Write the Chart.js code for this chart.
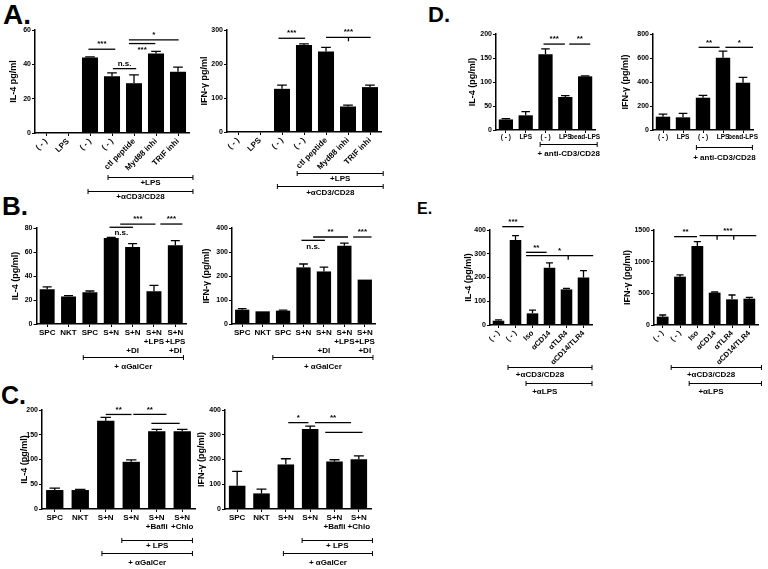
<!DOCTYPE html>
<html>
<head>
<meta charset="utf-8">
<script src="https://cdn.jsdelivr.net/npm/chart.js@4/dist/chart.umd.min.js"></script>
<style>
  body { margin: 0; background: #fff; width: 768px; height: 569px; position: relative; overflow: hidden;
         font-family: "Liberation Sans", Arial, sans-serif; }
  canvas { position: absolute; }
  .tag { position: absolute; font-weight: bold; line-height: 1; color: #000; }
</style>
</head>
<body>
<div class="tag" style="left:3px;top:1px;font-size:28px">A.</div>
<div class="tag" style="left:2px;top:193px;font-size:26px">B.</div>
<div class="tag" style="left:1px;top:383px;font-size:25px">C.</div>
<div class="tag" style="left:428px;top:4px;font-size:22px">D.</div>
<div class="tag" style="left:417px;top:201px;font-size:16px">E.</div>

<canvas id="aIl4"></canvas>
<canvas id="aIfn"></canvas>
<canvas id="bIl4"></canvas>
<canvas id="bIfn"></canvas>
<canvas id="cIl4"></canvas>
<canvas id="cIfn"></canvas>
<canvas id="dIl4"></canvas>
<canvas id="dIfn"></canvas>
<canvas id="eIl4"></canvas>
<canvas id="eIfn"></canvas>

<script>
// A. TLR signalling inhibitors
const aLabels = ['( - )', 'LPS', '( - )', '( - )', 'ctl peptide', 'Myd88 inhi', 'TRIF inhi'];
const aIl4 = [0, 0, 44, 33, 29, 46.3, 35.7];
const aIl4Err = [0, 0, 0.3, 2, 4.9, 1.2, 2.7];
const aIl4Ticks = [0, 20, 40, 60];
const aIfn = [0, 0, 127, 256, 237, 75, 132];
const aIfnErr = [0, 0, 11, 3, 12, 4, 6];
const aIfnTicks = [0, 100, 200, 300];

// B. DI
const bLabels = ['SPC', 'NKT', 'SPC', 'S+N', ['S+N', '', '+DI'], ['S+N', '+LPS'], ['S+N', '+LPS', '+DI']];
const bIl4 = [28.9, 23, 26.4, 71.7, 64.2, 27.2, 65.6];
const bIl4Err = [2, 0.6, 1.1, 0.5, 2.8, 5, 3.9];
const bIl4Ticks = [0, 20, 40, 60, 80];
const bIfn = [59.7, 52.8, 55.6, 236, 219, 326, 185];
const bIfnErr = [4, 0, 2.5, 14, 18, 11, 0];
const bIfnTicks = [0, 100, 200, 300, 400];

// C. Bafilomycin / chloroquine
const cLabels = ['SPC', 'NKT', 'S+N', 'S+N', ['S+N', '+Bafli'], ['S+N', '+Chlo']];
const cIl4 = [38.3, 38.3, 178.5, 95.3, 157, 157];
const cIl4Err = [4, 1.3, 6.7, 4, 4, 4];
const cIl4Ticks = [0, 50, 100, 150, 200];
const cIfn = [94, 63, 180, 323.5, 192, 201];
const cIfnErr = [58, 17.5, 23, 11, 7, 14];
const cIfnTicks = [0, 100, 200, 300, 400];

// D. bead-LPS
const dLabels = ['( - )', 'LPS', '( - )', 'LPS', 'bead-LPS'];
const dIl4 = [22, 30.6, 158, 68.8, 111.8];
const dIl4Err = [1.5, 7.6, 11, 2.8, 1];
const dIl4Ticks = [0, 50, 100, 150, 200];
const dIfn = [111, 105.6, 269, 603, 394];
const dIfnErr = [22, 33, 20, 55, 45];
const dIfnTicks = [0, 200, 400, 600, 800];

// E. blocking antibodies
const eLabels = ['( - )', '( - )', 'Iso', 'αCD14', 'αTLR4', 'αCD14/TLR4'];
const eIl4 = [18, 358, 49, 241, 150, 200];
const eIl4Err = [4, 18, 14, 21, 4, 29];
const eIl4Ticks = [0, 100, 200, 300, 400];
const eIfn = [132, 763, 1247, 511, 405, 416];
const eIfnErr = [26, 27, 69, 10, 69, 21];
const eIfnTicks = [0, 500, 1000, 1500];

const FONT = '"Liberation Sans", Arial, sans-serif';
const PT = 24, PR = 16, XH = 80;

// error bars, significance lines and the condition brackets under the axis
const marks = {
  id: 'marks',
  afterDatasetsDraw(chart, args, opts) {
    const ctx = chart.ctx;
    const x = chart.scales.x, y = chart.scales.y;
    const vals = chart.data.datasets[0].data;
    ctx.save();
    ctx.strokeStyle = '#000';
    ctx.fillStyle = '#000';
    ctx.lineWidth = 1.3;

    chart.getDatasetMeta(0).data.forEach((bar, i) => {
      const e = opts.errors[i];
      if (!e) return;
      const top = y.getPixelForValue(vals[i] + e);
      const hw = bar.width * 0.3;
      ctx.beginPath();
      ctx.moveTo(bar.x, bar.y);
      ctx.lineTo(bar.x, top);
      ctx.moveTo(bar.x - hw, top);
      ctx.lineTo(bar.x + hw, top);
      ctx.stroke();
    });

    ctx.font = 'bold 8px ' + FONT;
    ctx.textAlign = 'center';
    (opts.sig || []).forEach(([a, b, v, txt, below, ticks]) => {
      const py = y.getPixelForValue(v);
      const xa = x.getPixelForValue(a), xb = x.getPixelForValue(b);
      ctx.beginPath();
      ctx.moveTo(xa, py);
      ctx.lineTo(xb, py);
      (ticks || []).forEach(t => {
        const tx = x.getPixelForValue(t);
        ctx.moveTo(tx, py);
        ctx.lineTo(tx, py + 4);
      });
      ctx.stroke();
      if (!txt) return;
      ctx.textBaseline = below ? 'top' : 'bottom';
      ctx.fillText(txt, (xa + xb) / 2, below ? py + 2 : py - 1);
    });

    const base = chart.chartArea.bottom;
    ctx.lineWidth = 1;
    ctx.textBaseline = 'middle';
    (opts.groups || []).forEach(([a, b, off, txt, t, toff]) => {
      const xa = x.getPixelForValue(a), xb = x.getPixelForValue(b);
      const py = Math.round(base + off) + 0.5;
      ctx.beginPath();
      ctx.moveTo(xa, py);
      ctx.lineTo(xb, py);
      ctx.moveTo(xa, py - 2.5);
      ctx.lineTo(xa, py + 2.5);
      ctx.moveTo(xb, py - 2.5);
      ctx.lineTo(xb, py + 2.5);
      ctx.stroke();
      const tx = t == null ? (xa + xb) / 2 : x.getPixelForValue(t);
      ctx.fillText(txt, tx, base + toff);
    });
    ctx.restore();
  }
};

function panel(id, o) {
  const left = Math.round(o.titleX - 5.5);
  const top = Math.round(o.yTop - PT);
  const w = Math.round(o.x1 + PR - left);
  const h = Math.round(o.yBot + XH - top);
  const yw = o.x0 - left;
  const cv = document.getElementById(id);
  cv.style.left = left + 'px';
  cv.style.top = top + 'px';
  cv.width = w;
  cv.height = h;

  new Chart(cv, {
    type: 'bar',
    data: {
      labels: o.labels,
      datasets: [{
        data: o.values,
        backgroundColor: '#000',
        barPercentage: o.bar,
        categoryPercentage: 1
      }]
    },
    options: {
      responsive: false,
      animation: false,
      layout: { padding: { top: PT, right: PR, left: 0, bottom: 0 } },
      plugins: {
        legend: { display: false },
        tooltip: { enabled: false },
        marks: { errors: o.errors, sig: o.sig, groups: o.groups }
      },
      scales: {
        x: {
          offset: true,
          grid: { display: true, offset: false, drawOnChartArea: false, color: '#000', tickLength: 3, lineWidth: 1 },
          border: { color: '#000', width: 1.5 },
          ticks: {
            color: '#000',
            autoSkip: false,
            maxRotation: o.rot,
            minRotation: o.rot,
            padding: 1,
            font: { family: FONT, size: o.xFont || 8, weight: 'bold', lineHeight: 1.12 }
          },
          afterFit: s => { s.height = XH; }
        },
        y: {
          min: 0,
          max: o.ticks[o.ticks.length - 1],
          grid: { drawOnChartArea: false, color: '#000', tickLength: 3, lineWidth: 1 },
          border: { color: '#000', width: 1.5 },
          ticks: {
            stepSize: o.ticks[1],
            color: '#000',
            padding: 1,
            font: { family: FONT, size: 7, weight: 'bold' },
            callback: v => String(v)
          },
          title: {
            display: true,
            text: o.yTitle,
            color: '#000',
            padding: 0,
            font: { family: FONT, size: 9, weight: 'bold' }
          },
          afterFit: s => { s.width = yw; }
        }
      }
    },
    plugins: [marks]
  });
}

panel('aIl4', {
  labels: aLabels, values: aIl4, errors: aIl4Err, ticks: aIl4Ticks, yTitle: 'IL-4 pg/ml',
  titleX: 13, x0: 35, x1: 189, yTop: 30, yBot: 133, bar: 0.73, rot: 45,
  sig: [[1.93, 3.15, 48.8, '***'], [3.04, 4.1, 37.5, 'n.s.'], [3.77, 6.03, 54.2, '*'], [3.77, 4.97, 52.1, '***', true]],
  groups: [[2.82, 6.68, 44, '+LPS', null, 50], [1.91, 6.68, 58, '+αCD3/CD28', null, 64]]
});
panel('aIfn', {
  labels: aLabels, values: aIfn, errors: aIfnErr, ticks: aIfnTicks, yTitle: 'IFN-γ pg/ml',
  titleX: 204, x0: 227, x1: 381, yTop: 30, yBot: 132, bar: 0.73, rot: 45,
  sig: [[1.84, 3.05, 275.7, '***'], [4.0, 6.03, 278.6, '***', false, [5.02]]],
  groups: [[2.69, 6.6, 41, '+LPS', null, 47], [1.79, 6.6, 54, '+αCD3/CD28', null, 61]]
});
panel('bIl4', {
  labels: bLabels, values: bIl4, errors: bIl4Err, ticks: bIl4Ticks, yTitle: 'IL-4 (pg/ml)',
  titleX: 15, x0: 36.5, x1: 185.5, yTop: 228, yBot: 324, bar: 0.7, rot: 0,
  sig: [[2.92, 4.02, 80.6, 'n.s.', true], [3.42, 5.07, 83.3, '***'], [5.3, 6.33, 83.3, '***']],
  groups: [[1.69, 6.38, 33, '+ αGalCer', null, 43]]
});
panel('bIfn', {
  labels: bLabels, values: bIfn, errors: bIfnErr, ticks: bIfnTicks, yTitle: 'IFN-γ (pg/ml)',
  titleX: 206, x0: 232, x1: 375, yTop: 228, yBot: 324, bar: 0.7, rot: 0,
  sig: [[2.9, 4.05, 348.6, 'n.s.', true], [3.47, 5.18, 362.5, '**'], [5.43, 6.33, 362.5, '***']],
  groups: [[1.5, 6.4, 33, '+ αGalCer', null, 43]]
});
panel('cIl4', {
  labels: cLabels, values: cIl4, errors: cIl4Err, ticks: cIl4Ticks, yTitle: 'IL-4 (pg/ml)',
  titleX: 24, x0: 42, x1: 195, yTop: 410, yBot: 509, bar: 0.68, rot: 0,
  sig: [[2.0, 3.01, 191, '**'], [3.08, 4.38, 191, '**'], [3.79, 4.9, 173, '']],
  groups: [[2.63, 5.4, 31, '+ LPS', null, 37], [1.85, 5.4, 44, '+ αGalCer', null, 54]]
});
panel('cIfn', {
  labels: cLabels, values: cIfn, errors: cIfnErr, ticks: cIfnTicks, yTitle: 'IFN-γ (pg/ml)',
  titleX: 201, x0: 225, x1: 371, yTop: 410, yBot: 509, bar: 0.68, rot: 0,
  sig: [[2.1, 2.93, 349, '*'], [3.2, 4.68, 349, '**'], [3.62, 5.15, 310, '']],
  groups: [[2.67, 5.56, 31, '+ LPS', null, 37], [1.9, 5.56, 44, '+ αGalCer', null, 54]]
});
panel('dIl4', {
  labels: dLabels, values: dIl4, errors: dIl4Err, ticks: dIl4Ticks, yTitle: 'IL-4 (pg/ml)',
  titleX: 472, x0: 496, x1: 595, yTop: 34, yBot: 130, bar: 0.72, rot: 0, xFont: 6.5,
  sig: [[1.9, 2.98, 179, '***'], [3.2, 4.26, 179, '**']],
  groups: [[1.73, 4.61, 14, '+ anti-CD3/CD28', null, 24]]
});
panel('dIfn', {
  labels: dLabels, values: dIfn, errors: dIfnErr, ticks: dIfnTicks, yTitle: 'IFN-γ (pg/ml)',
  titleX: 625, x0: 653, x1: 753, yTop: 34, yBot: 130, bar: 0.72, rot: 0, xFont: 6.5,
  sig: [[1.78, 2.83, 689, '**'], [3.12, 4.5, 689, '*']],
  groups: [[1.67, 4.47, 17, '+ anti-CD3/CD28', null, 28]]
});
panel('eIl4', {
  labels: eLabels, values: eIl4, errors: eIl4Err, ticks: eIl4Ticks, yTitle: 'IL-4 (pg/ml)',
  titleX: 468, x0: 490, x1: 592, yTop: 230, yBot: 325, bar: 0.68, rot: 45, xFont: 7.5,
  sig: [[0.22, 1.48, 414, '***'], [1.62, 2.83, 306, '**'], [1.62, 5.57, 292, '*', false, [4.1]]],
  groups: [[0.56, 5.5, 42, '+αCD3/CD28', 2.44, 50], [1.62, 5.5, 58, '+αLPS', 2.72, 67]]
});
panel('eIfn', {
  labels: eLabels, values: eIfn, errors: eIfnErr, ticks: eIfnTicks, yTitle: 'IFN-γ (pg/ml)',
  titleX: 627, x0: 654, x1: 757.5, yTop: 230, yBot: 325, bar: 0.68, rot: 45, xFont: 7.5,
  sig: [[0.66, 1.98, 1395, '**'], [2.13, 5.4, 1410, '***', false, [3.14, 4.1]]],
  groups: [[0.49, 5.7, 42, '+αCD3/CD28', 2.79, 50], [1.53, 5.7, 58, '+αLPS', 2.79, 67]]
});
</script>
</body>
</html>
